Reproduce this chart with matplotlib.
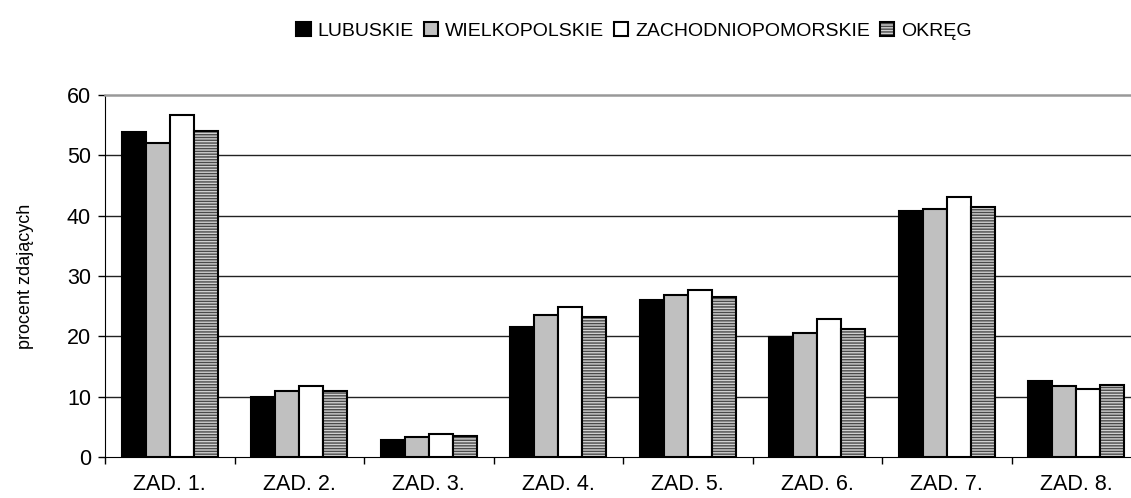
import matplotlib
matplotlib.use("Agg")
import matplotlib.pyplot as plt
import numpy as np

plt.rcParams['font.family'] = ['Liberation Sans', 'DejaVu Sans']
plt.rcParams['hatch.linewidth'] = 1.0

categories = ["ZAD. 1.", "ZAD. 2.", "ZAD. 3.", "ZAD. 4.", "ZAD. 5.", "ZAD. 6.", "ZAD. 7.", "ZAD. 8."]
series_names = ["LUBUSKIE", "WIELKOPOLSKIE", "ZACHODNIOPOMORSKIE", "OKRĘG"]
lubuskie = [53.8, 10.0, 2.8, 21.6, 26.0, 19.9, 40.8, 12.6]
wielkopolskie = [52.0, 10.9, 3.3, 23.5, 26.9, 20.5, 41.1, 11.7]
zachodniopomorskie = [56.7, 11.7, 3.8, 24.9, 27.6, 22.9, 43.1, 11.2]
okreg = [54.1, 11.0, 3.4, 23.2, 26.5, 21.2, 41.5, 12.0]
yticks = [0, 10, 20, 30, 40, 50, 60]

W, H = 1131, 498
fig = plt.figure(figsize=(W / 100, H / 100), dpi=100)
ax = fig.add_axes([105 / W, 41 / H, 1036 / W, 362 / H])

x = np.arange(len(categories))
bw = 0.186
styles = [
    dict(facecolor='black', edgecolor='black'),
    dict(facecolor='#c0c0c0', edgecolor='black'),
    dict(facecolor='white', edgecolor='black'),
    dict(facecolor='#d0d0d0', edgecolor='black', hatch='------'),
]
data = [lubuskie, wielkopolskie, zachodniopomorskie, okreg]
handles = []
for i, (vals, st, name) in enumerate(zip(data, styles, series_names)):
    b = ax.bar(x + (i - 1.5) * bw, vals, width=bw, linewidth=1.5, label=name, zorder=3, **st)
    if 'hatch' in st:
        for p in b:
            p._hatch_color = matplotlib.colors.to_rgba('#4a4a4a')
    handles.append(b)

ax.set_xlim(-0.5, len(categories) - 0.5)
ax.set_ylim(0, 60)
ax.set_yticks(yticks)
ax.set_yticklabels([str(v) for v in yticks], fontsize=15.5)
ax.set_xticks(x)
ax.set_xticklabels(categories, fontsize=15.5)
ax.set_xticks(np.arange(len(categories) + 1) - 0.5, minor=True)
ax.tick_params(axis='x', which='major', length=0, pad=12)
ax.tick_params(axis='x', which='minor', length=5, width=1, direction='out', color='black')
ax.tick_params(axis='y', length=5, width=1, direction='out', pad=5)

for v in yticks[1:-1]:
    ax.axhline(v, color='#222222', linewidth=1.0, zorder=1)

ax.spines['right'].set_visible(False)
ax.spines['top'].set_color('#999999')
ax.spines['top'].set_linewidth(1.8)
ax.spines['left'].set_color('black')
ax.spines['bottom'].set_color('black')

ax.set_ylabel("procent zdających", fontsize=13, labelpad=24)

fig.legend(handles=handles, labels=series_names, loc='center', bbox_to_anchor=(634 / W, 1 - 31 / H),
           ncol=4, frameon=False, fontsize=14, handlelength=0.75, handleheight=0.75,
           handletextpad=0.35, columnspacing=0.5, borderaxespad=0)

fig.savefig("out.png", dpi=100)
